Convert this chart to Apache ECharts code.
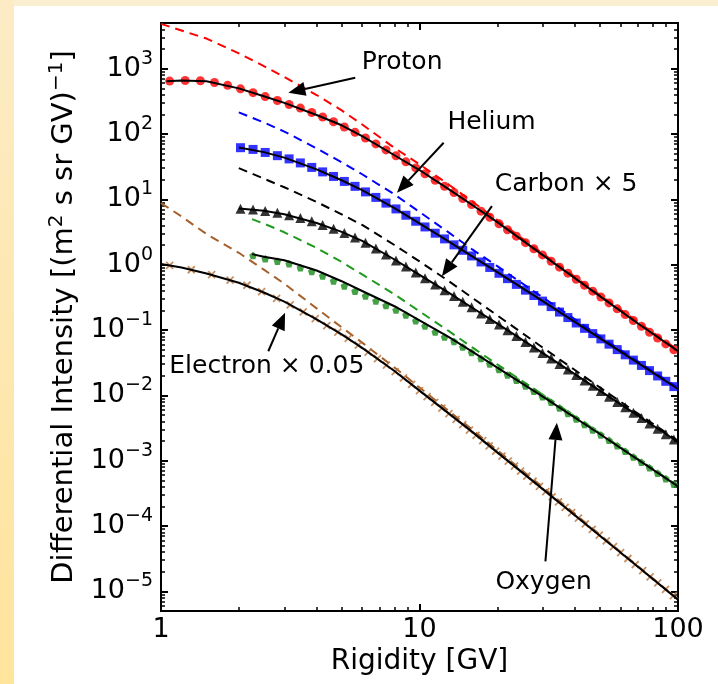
<!DOCTYPE html>
<html>
<head>
<meta charset="utf-8">
<script src="https://cdn.jsdelivr.net/npm/echarts@6/dist/echarts.min.js"></script>
<style>
  html, body { margin: 0; padding: 0; background: #fff; }
  #wrap { position: relative; width: 718px; height: 684px; overflow: hidden; background: #fff; }
  #topband { position: absolute; left: 0; top: 0; width: 718px; height: 6px; background: #fbefd1; }
  #leftband { position: absolute; left: 0; top: 0; width: 14px; height: 684px; background: linear-gradient(#fcebc5, #ffe49c); }
  #chart { position: absolute; left: 0; top: 0; width: 718px; height: 684px; }
</style>
</head>
<body>
<div id="wrap"><div id="topband"></div><div id="leftband"></div><div id="chart"></div></div>
<script>
// ---- Measured spectra (rigidity in GV, intensity in (m^2 s sr GV)^-1) ----
const protonRigidity = [1.08, 1.24, 1.42, 1.61, 1.81, 2.03, 2.27, 2.53, 2.82, 3.13, 3.46, 3.83, 4.22, 4.65, 5.12, 5.63, 6.18, 6.78, 7.42, 8.11, 8.86, 9.67, 10.5, 11.5, 12.5, 13.6, 14.7, 15.9, 17.3, 18.7, 20.3, 21.9, 23.7, 25.7, 27.7, 29.9, 32.3, 34.8, 37.5, 40.4, 43.5, 46.8, 50.3, 54.1, 58.2, 62.5, 67.2, 72.2, 77.6, 83.4, 89.7, 96.4];
const protonFlux = [646, 659, 653, 613, 555, 491, 429, 374, 325, 283, 249, 213, 182, 154, 128, 106, 86.9, 70.5, 57.1, 46.4, 37.5, 30.3, 24.6, 19.6, 15.8, 12.7, 10.3, 8.32, 6.59, 5.32, 4.23, 3.42, 2.73, 2.17, 1.75, 1.41, 1.13, 0.916, 0.741, 0.597, 0.484, 0.393, 0.320, 0.260, 0.211, 0.172, 0.140, 0.114, 0.0925, 0.0755, 0.0613, 0.0499];

const heliumRigidity = [2.03, 2.27, 2.53, 2.82, 3.13, 3.46, 3.83, 4.22, 4.65, 5.12, 5.63, 6.18, 6.78, 7.42, 8.11, 8.86, 9.67, 10.5, 11.5, 12.5, 13.6, 14.7, 15.9, 17.3, 18.7, 20.3, 21.9, 23.7, 25.7, 27.7, 29.9, 32.3, 34.8, 37.5, 40.4, 43.5, 46.8, 50.3, 54.1, 58.2, 62.5, 67.2, 72.2, 77.6, 83.4, 89.7, 96.4];
const heliumFlux = [61.7, 58.1, 52.2, 46.6, 41.6, 36.1, 30.8, 26.3, 22.4, 18.8, 15.8, 13.0, 10.7, 8.75, 7.13, 5.71, 4.62, 3.78, 3.03, 2.48, 2.01, 1.66, 1.36, 1.10, 0.906, 0.738, 0.611, 0.499, 0.407, 0.337, 0.277, 0.228, 0.188, 0.155, 0.128, 0.106, 0.0881, 0.0731, 0.0607, 0.0501, 0.0417, 0.0346, 0.0287, 0.0239, 0.0198, 0.0164, 0.0136];

const carbonRigidity = heliumRigidity;
const carbonFluxX5 = [7.18, 7.00, 6.64, 6.21, 5.71, 5.19, 4.62, 4.06, 3.55, 3.06, 2.61, 2.16, 1.77, 1.43, 1.16, 0.938, 0.759, 0.621, 0.497, 0.406, 0.330, 0.270, 0.222, 0.179, 0.148, 0.121, 0.0993, 0.0809, 0.0658, 0.0542, 0.0445, 0.0365, 0.0301, 0.0248, 0.0205, 0.0169, 0.0140, 0.0116, 0.00955, 0.00789, 0.00655, 0.00541, 0.00449, 0.00371, 0.00307, 0.00254, 0.00210];

const oxygenRigidity = [2.27, 2.53, 2.82, 3.13, 3.46, 3.83, 4.22, 4.65, 5.12, 5.63, 6.18, 6.78, 7.42, 8.11, 8.86, 9.67, 10.5, 11.5, 12.5, 13.6, 14.7, 15.9, 17.3, 18.7, 20.3, 21.9, 23.7, 25.7, 27.7, 29.9, 32.3, 34.8, 37.5, 40.4, 43.5, 46.8, 50.3, 54.1, 58.2, 62.5, 67.2, 72.2, 77.6, 83.4, 89.7, 96.4];
const oxygenFlux = [1.38, 1.23, 1.13, 1.03, 0.898, 0.787, 0.671, 0.563, 0.472, 0.393, 0.332, 0.278, 0.237, 0.202, 0.170, 0.138, 0.115, 0.0931, 0.0781, 0.0667, 0.0549, 0.0452, 0.0366, 0.0302, 0.0248, 0.0205, 0.0170, 0.0139, 0.0115, 0.00948, 0.00782, 0.00641, 0.00528, 0.00434, 0.00357, 0.00295, 0.00248, 0.00205, 0.00169, 0.00139, 0.00114, 0.000944, 0.000778, 0.000644, 0.000530, 0.000436];

const electronRigidity = [1.08, 1.31, 1.57, 1.85, 2.15, 2.45, 2.8, 3.16, 3.55, 3.95, 4.38, 4.83, 5.3, 5.8, 6.33, 6.88, 7.45, 8.05, 8.67, 9.32, 10.0, 10.7, 11.45, 12.2, 13.0, 13.85, 14.7, 15.6, 16.55, 17.55, 18.6, 19.7, 20.85, 22.05, 23.3, 24.6, 26.0, 27.5, 29.1, 30.8, 32.6, 34.5, 36.6, 38.8, 41.2, 43.8, 46.6, 49.6, 52.8, 56.3, 60.0, 64.0, 68.3, 73.0, 78.0, 83.5, 89.5, 96.0];
const electronFluxX005 = [0.972, 0.836, 0.703, 0.579, 0.484, 0.388, 0.305, 0.243, 0.189, 0.149, 0.117, 0.0929, 0.0743, 0.0585, 0.0459, 0.0365, 0.0291, 0.0231, 0.0185, 0.0147, 0.0118, 0.00959, 0.00778, 0.00638, 0.00525, 0.00429, 0.00355, 0.00294, 0.00244, 0.00203, 0.00169, 0.00140, 0.00117, 0.000982, 0.000824, 0.000693, 0.000579, 0.000484, 0.000404, 0.000336, 0.000280, 0.000234, 0.000193, 0.000160, 0.000132, 0.000108, 8.87e-5, 7.26e-5, 5.93e-5, 4.82e-5, 3.92e-5, 3.18e-5, 2.57e-5, 2.07e-5, 1.67e-5, 1.35e-5, 1.07e-5, 8.57e-6];

// ---- Modulated model fits (solid black) ----
const protonFitRigidity = [1.05, 1.2, 1.5, 2, 2.5, 3, 4, 5, 6, 8, 10, 13, 16, 20, 30, 50, 70, 100];
const protonFit = [644, 659, 640, 499, 379, 299, 195, 136, 92.5, 47.3, 28.1, 14.2, 8.20, 4.48, 1.40, 0.327, 0.126, 0.0475];
const heliumFitRigidity = [2.0, 2.5, 3, 4, 5, 6, 8, 10, 13, 16, 20, 30, 50, 70, 100];
const heliumFit = [62.3, 52.8, 43.5, 28.7, 19.6, 13.8, 7.36, 4.28, 2.25, 1.34, 0.767, 0.276, 0.0743, 0.0313, 0.0125];
const carbonFitRigidity = [2.0, 2.5, 3, 4, 5, 6, 8, 10, 13, 16, 20, 30, 50, 70, 100];
const carbonFitX5 = [7.21, 6.69, 5.91, 4.35, 3.17, 2.31, 1.20, 0.698, 0.369, 0.219, 0.125, 0.0443, 0.0117, 0.00489, 0.00193];
const oxygenFitRigidity = [2.25, 2.5, 3, 4, 5, 6, 8, 10, 13, 16, 20, 30, 50, 70, 100];
const oxygenFit = [1.45, 1.32, 1.17, 0.815, 0.558, 0.395, 0.231, 0.140, 0.0776, 0.0467, 0.0265, 0.00955, 0.00254, 0.00104, 0.000403];
const electronFitRigidity = [1, 1.2, 1.5, 2, 2.5, 3, 4, 5, 6, 8, 10, 13, 16, 20, 30, 50, 70, 100];
const electronFitX005 = [1.02, 0.906, 0.733, 0.528, 0.375, 0.271, 0.145, 0.0857, 0.0532, 0.0236, 0.0118, 0.00525, 0.00276, 0.00134, 0.000367, 7.05e-5, 2.37e-5, 7.46e-6];

// ---- Local interstellar spectra (dashed) ----
const protonLisRigidity = [1, 1.2, 1.5, 2, 2.5, 3, 4, 5, 6, 8, 10, 13, 16, 20, 30, 50, 70, 100];
const protonLis = [4853, 3830, 2890, 1714, 1096, 747, 395, 230, 140, 61.2, 34.4, 16.7, 9.25, 4.82, 1.48, 0.342, 0.132, 0.0494];
const heliumLisRigidity = [2, 2.5, 3, 4, 5, 6, 8, 10, 13, 16, 20, 30, 50, 70, 100];
const heliumLis = [214, 150, 109, 60.1, 37.0, 24.2, 11.9, 6.41, 3.09, 1.71, 0.948, 0.315, 0.0798, 0.0330, 0.0130];
const carbonLisRigidity = [2, 2.5, 3, 4, 5, 6, 8, 10, 13, 16, 20, 30, 50, 70, 100];
const carbonLisX5 = [30.1, 20.7, 15.3, 9.12, 5.87, 4.06, 2.00, 1.12, 0.558, 0.311, 0.167, 0.0537, 0.0131, 0.00525, 0.00202];
const oxygenLisRigidity = [2.25, 2.5, 3, 4, 5, 6, 8, 10, 13, 16, 20, 30, 50, 70, 100];
const oxygenLis = [4.98, 4.25, 3.13, 1.80, 1.10, 0.708, 0.352, 0.193, 0.0959, 0.0543, 0.0297, 0.0102, 0.00261, 0.00106, 0.000411];
const electronLisRigidity = [1, 1.2, 1.5, 2, 2.5, 3, 4, 5, 6, 8, 10, 13, 16, 20, 30, 50, 70, 100];
const electronLisX005 = [8.77, 5.47, 2.94, 1.52, 0.838, 0.512, 0.214, 0.110, 0.0641, 0.0267, 0.0132, 0.00573, 0.00299, 0.00144, 0.000394, 7.31e-5, 2.42e-5, 7.60e-6];

// ---- Axes ----
const rigidityRange = [1, 100];
const intensityRange = [5e-6, 5e3];
const xTickLabels = ['1', '10', '100'];
const yTickExponents = [-5, -4, -3, -2, -1, 0, 1, 2, 3];

const FONT = '"DejaVu Sans", "Liberation Sans", sans-serif';
const chart = echarts.init(document.getElementById('chart'), null, { renderer: 'canvas' });

const pairs = (xs, ys) => xs.map((x, i) => [x, ys[i]]);

const xLo = Math.log10(rigidityRange[0]), xHi = Math.log10(rigidityRange[1]);
const yLo = Math.log10(intensityRange[0]), yHi = Math.log10(intensityRange[1]);

function minorLogTicks(lo, hi) {
  const out = [];
  for (let d = Math.floor(lo); d <= Math.ceil(hi); d++) {
    for (let k = 2; k <= 9; k++) {
      const v = d + Math.log10(k);
      if (v > lo && v < hi) out.push(v);
    }
  }
  return out;
}
const xMajor = [0, 1, 2];
const xMinor = minorLogTicks(xLo, xHi);
const yMajor = yTickExponents.slice();
const yMinor = minorLogTicks(yLo, yHi);

// tick-only axes living in log10 space, used for the inward ticks on all four sides
function tickAxis(extra, lo, hi, ticks, len, width) {
  return Object.assign({
    type: 'value', min: lo, max: hi, gridIndex: 0,
    axisLine: { show: false, onZero: false },
    splitLine: { show: false },
    axisTick: { show: true, inside: true, length: len, customValues: ticks, lineStyle: { color: '#000', width: width } },
    axisLabel: { show: false }
  }, extra);
}

const xAxes = [
  { type: 'log', logBase: 10, min: rigidityRange[0], max: rigidityRange[1], show: false },
  tickAxis({
    position: 'bottom',
    axisLabel: {
      show: true, customValues: xMajor, margin: 5,
      formatter: v => xTickLabels[Math.round(v)],
      fontSize: 27, fontFamily: FONT, color: '#000'
    },
    name: 'Rigidity [GV]', nameLocation: 'middle', nameGap: 35,
    nameTextStyle: { fontSize: 28, fontFamily: FONT, color: '#000' }
  }, xLo, xHi, xMajor, 7, 2),
  tickAxis({ position: 'bottom' }, xLo, xHi, xMinor, 4, 1.5),
  tickAxis({ position: 'top' }, xLo, xHi, xMajor, 7, 2),
  tickAxis({ position: 'top' }, xLo, xHi, xMinor, 4, 1.5)
];

const yAxes = [
  { type: 'log', logBase: 10, min: intensityRange[0], max: intensityRange[1], show: false },
  tickAxis({
    position: 'left',
    axisLabel: {
      show: true, customValues: yMajor, margin: 8, padding: [0, 0, 6, 0],
      formatter: v => {
        const e = Math.round(v);
        return '{b|10}{s|' + (e < 0 ? '\u2212' + (-e) : String(e)) + '}';
      },
      rich: {
        b: { fontSize: 27, lineHeight: 27, verticalAlign: 'bottom', fontFamily: FONT, color: '#000' },
        s: { fontSize: 19, lineHeight: 33, verticalAlign: 'top', fontFamily: FONT, color: '#000' }
      }
    },
    name: '{b|Differential Intensity [(m}{s|2}{b| s sr GV)}{s|\u22121}{b|]}',
    nameLocation: 'middle', nameRotate: 90, nameGap: 82,
    nameTextStyle: {
      rich: {
        b: { fontSize: 29, lineHeight: 29, verticalAlign: 'bottom', fontFamily: FONT, color: '#000' },
        s: { fontSize: 20, lineHeight: 32, verticalAlign: 'top', fontFamily: FONT, color: '#000' }
      }
    }
  }, yLo, yHi, yMajor, 7, 2),
  tickAxis({ position: 'left' }, yLo, yHi, yMinor, 4, 1.5),
  tickAxis({ position: 'right' }, yLo, yHi, yMajor, 7, 2),
  tickAxis({ position: 'right' }, yLo, yHi, yMinor, 4, 1.5)
];

// ---- Series ----
const RED = '#ff0000', BLUE = '#0000ff', BLACK = '#000000', GREEN = '#1f9a1f', GREEN_MK = '#168a16', BROWN = '#a5602c', BROWN_MK = '#b8743e';
const DASH = [9, 6];

function lisLine(name, xs, ys, color) {
  return {
    type: 'line', name, data: pairs(xs, ys), symbol: 'none', smooth: false,
    lineStyle: { color, width: 2, type: DASH, join: 'round' }, z: 2, silent: true
  };
}
function fitLine(name, xs, ys) {
  return {
    type: 'line', name, data: pairs(xs, ys), symbol: 'none', smooth: false,
    lineStyle: { color: BLACK, width: 2, join: 'round' }, z: 5, silent: true
  };
}
function points(name, xs, ys, symbol, size, itemStyle) {
  return { type: 'scatter', name, data: pairs(xs, ys), symbol, symbolSize: size, itemStyle, z: 3, silent: true };
}

const PENTAGON = 'path://M0,-1L0.951,-0.309L0.588,0.809L-0.588,0.809L-0.951,-0.309Z';
const CROSS = 'path://M-1,-1L1,1M1,-1L-1,1';

const series = [
  lisLine('Proton LIS', protonLisRigidity, protonLis, RED),
  lisLine('Helium LIS', heliumLisRigidity, heliumLis, BLUE),
  lisLine('Carbon LIS', carbonLisRigidity, carbonLisX5, BLACK),
  lisLine('Oxygen LIS', oxygenLisRigidity, oxygenLis, GREEN),
  lisLine('Electron LIS', electronLisRigidity, electronLisX005, BROWN),

  points('Proton', protonRigidity, protonFlux, 'circle', 9, { color: RED }),
  points('Helium', heliumRigidity, heliumFlux, 'rect', 9, { color: BLUE }),
  points('Carbon', carbonRigidity, carbonFluxX5, 'triangle', 10, { color: BLACK }),
  points('Oxygen', oxygenRigidity, oxygenFlux, PENTAGON, 7.5, { color: GREEN_MK }),
  points('Electron', electronRigidity, electronFluxX005, CROSS, 7, { color: 'none', borderColor: BROWN_MK, borderWidth: 1.8 }),

  fitLine('Proton fit', protonFitRigidity, protonFit),
  fitLine('Helium fit', heliumFitRigidity, heliumFit),
  fitLine('Carbon fit', carbonFitRigidity, carbonFitX5),
  fitLine('Oxygen fit', oxygenFitRigidity, oxygenFit),
  fitLine('Electron fit', electronFitRigidity, electronFitX005)
];
series.forEach(s => { s.xAxisIndex = 0; s.yAxisIndex = 0; });

chart.setOption({
  animation: false,
  backgroundColor: 'transparent',
  grid: { left: 161, top: 23, right: 40, bottom: 73, show: true, borderColor: '#000', borderWidth: 2, backgroundColor: 'transparent' },
  xAxis: xAxes,
  yAxis: yAxes,
  series
});

// ---- Callout labels with arrows, anchored in data coordinates ----
const callouts = [
  { text: 'Proton', label: [8.57, 1236], tail: [5.64, 728], head: [3.11, 429] },
  { text: 'Helium', label: [19.0, 149], tail: [12.4, 73.6], head: [8.18, 12.6] },
  { text: 'Carbon \u00d7 5', label: [36.9, 16.9], tail: [19.06, 7.87], head: [12.21, 0.667] },
  { text: 'Electron \u00d7 0.05', label: [2.566, 0.0279], tail: [2.60, 0.0473], head: [3.02, 0.183] },
  { text: 'Oxygen', label: [30.2, 1.35e-5], tail: [30.7, 2.88e-5], head: [34.0, 3.79e-3] }
];

function drawCallouts() {
  const finder = { xAxisIndex: 0, yAxisIndex: 0 };
  const els = [];
  callouts.forEach(c => {
    const t = chart.convertToPixel(finder, c.label);
    const p0 = chart.convertToPixel(finder, c.tail);
    const p1 = chart.convertToPixel(finder, c.head);
    const dx = p1[0] - p0[0], dy = p1[1] - p0[1];
    const L = Math.hypot(dx, dy), ux = dx / L, uy = dy / L;
    const headLen = 17, headHalf = 7;
    const bx = p1[0] - ux * headLen, by = p1[1] - uy * headLen;
    els.push({ type: 'line', z: 10, shape: { x1: p0[0], y1: p0[1], x2: bx, y2: by }, style: { stroke: '#000', lineWidth: 2 } });
    els.push({ type: 'polygon', z: 10, shape: { points: [[p1[0], p1[1]], [bx - uy * headHalf, by + ux * headHalf], [bx + uy * headHalf, by - ux * headHalf]] }, style: { fill: '#000' } });
    els.push({
      type: 'text', z: 10, x: t[0], y: t[1],
      style: { text: c.text, fontSize: 25, fontFamily: FONT, fill: '#000', align: 'center', verticalAlign: 'middle', textAlign: 'center', textVerticalAlign: 'middle' }
    });
  });
  chart.setOption({ graphic: { elements: els } });
}
drawCallouts();
</script>
</body>
</html>
